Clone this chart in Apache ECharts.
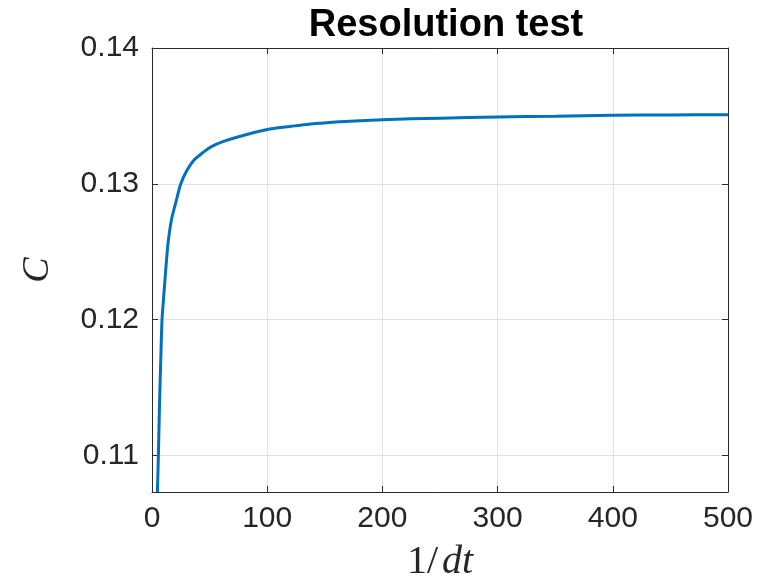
<!DOCTYPE html>
<html>
<head>
<meta charset="utf-8">
<script src="https://cdn.jsdelivr.net/npm/echarts@6/dist/echarts.min.js"></script>
<style>html,body{margin:0;padding:0;background:#fff}#c{width:777px;height:584px}</style>
</head>
<body>
<div id="c"></div>
<script>
const titleText = 'Resolution test';
const xTicks = [0, 100, 200, 300, 400, 500];
const yTicks = [0.11, 0.12, 0.13, 0.14];
const invDt = [4.7, 5.6, 6.6, 7.6, 8.7, 9.9, 11.6, 13.9, 16.8, 21.2, 25, 29.8, 36, 45, 52, 61.5, 76, 100, 120, 134, 163, 200, 250, 300, 350, 400, 450, 500];
const cValues = [0.1073, 0.1102, 0.1140, 0.1170, 0.1200, 0.1214, 0.1233, 0.1256, 0.1273, 0.1288, 0.1300, 0.1309, 0.1317, 0.13235, 0.13275, 0.1331, 0.13348, 0.1340, 0.13422, 0.13437, 0.13457, 0.13472, 0.13483, 0.13492, 0.13498, 0.13504, 0.13507, 0.13509];

const seriesData = invDt.map((x, i) => [x, cValues[i]]);
const axisColor = '#2b2b2b';
const gridColor = '#e2e2e2';
const labelFont = { fontFamily: 'Liberation Sans, Arial, sans-serif', fontSize: 30, color: '#262626' };

const chart = echarts.init(document.getElementById('c'), null, { renderer: 'canvas' });
chart.setOption({
  backgroundColor: '#fff',
  animation: false,
  title: {
    text: titleText,
    left: 441, top: 2, textAlign: 'center',
    textStyle: { fontFamily: 'Liberation Sans, Arial, sans-serif', fontWeight: 'bold', fontSize: 38, color: '#000' }
  },
  grid: { left: 152, top: 48, right: 49, bottom: 92, containLabel: false, outerBoundsMode: 'none' },
  xAxis: [{
    type: 'value', min: 0, max: 500, interval: 100, position: 'bottom',
    name: '{n|1/}{i|dt}', nameLocation: 'middle', nameGap: 50,
    nameTextStyle: { rich: {
      n: { fontFamily: 'Liberation Serif, Times New Roman, serif', fontSize: 40, color: '#262626' },
      i: { fontFamily: 'Liberation Serif, Times New Roman, serif', fontStyle: 'italic', fontSize: 40, color: '#262626', padding: [0, 0, 0, 4] }
    } },
    axisLine: { show: true, onZero: false, lineStyle: { color: axisColor, width: 1 } },
    axisTick: { show: true, inside: true, length: 6, lineStyle: { color: axisColor } },
    axisLabel: Object.assign({ margin: 12, formatter: v => String(v) }, labelFont),
    splitLine: { show: true, lineStyle: { color: gridColor, width: 1 } }
  }, {
    type: 'value', min: 0, max: 500, interval: 100, position: 'top',
    axisLine: { show: true, onZero: false, lineStyle: { color: axisColor, width: 1 } },
    axisTick: { show: true, inside: true, length: 6, lineStyle: { color: axisColor } },
    axisLabel: { show: false }, splitLine: { show: false }
  }],
  yAxis: [{
    type: 'value', min: 0.1073, max: 0.14, position: 'left',
    name: 'C', nameLocation: 'middle', nameGap: 95,
    nameTextStyle: { fontFamily: 'Liberation Serif, Times New Roman, serif', fontStyle: 'italic', fontSize: 38, color: '#262626' },
    axisLine: { show: true, onZero: false, lineStyle: { color: axisColor, width: 1 } },
    axisTick: { show: true, inside: true, length: 6, customValues: yTicks, lineStyle: { color: axisColor } },
    axisLabel: Object.assign({ margin: 13, customValues: yTicks, formatter: v => v.toFixed(2) }, labelFont),
    splitLine: { show: true, lineStyle: { color: gridColor, width: 1 } }
  }, {
    type: 'value', min: 0.1073, max: 0.14, position: 'right',
    axisLine: { show: true, onZero: false, lineStyle: { color: axisColor, width: 1 } },
    axisTick: { show: true, inside: true, length: 6, customValues: yTicks, lineStyle: { color: axisColor } },
    axisLabel: { show: false }, splitLine: { show: false }
  }],
  series: [{
    type: 'line', xAxisIndex: 0, yAxisIndex: 0,
    data: seriesData, showSymbol: false, smooth: 0.3, clip: true,
    lineStyle: { color: '#0072BD', width: 3 }
  }]
});
</script>
</body>
</html>
